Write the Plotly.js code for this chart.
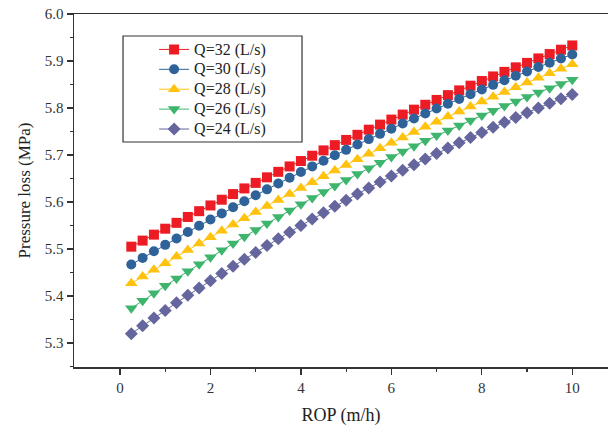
<!DOCTYPE html>
<html>
<head>
<meta charset="utf-8">
<script src="https://cdn.plot.ly/plotly-3.0.1.min.js"></script>
<style>html,body{margin:0;padding:0;background:#fff;}#chart{width:608px;height:426px;}</style>
</head>
<body>
<div id="chart"></div>
<script>
const rop = [0.25,0.5,0.75,1,1.25,1.5,1.75,2,2.25,2.5,2.75,3,3.25,3.5,3.75,4,4.25,4.5,4.75,5,
             5.25,5.5,5.75,6,6.25,6.5,6.75,7,7.25,7.5,7.75,8,8.25,8.5,8.75,9,9.25,9.5,9.75,10];

const q32 = [5.5050,5.5179,5.5306,5.5432,5.5557,5.5682,5.5805,5.5927,5.6049,5.6169,
             5.6289,5.6407,5.6525,5.6642,5.6757,5.6872,5.6985,5.7098,5.7210,5.7321,
             5.7430,5.7539,5.7647,5.7754,5.7860,5.7965,5.8069,5.8172,5.8274,5.8375,
             5.8475,5.8574,5.8672,5.8769,5.8865,5.8960,5.9055,5.9148,5.9240,5.9331];
const q30 = [5.4670,5.4811,5.4951,5.5089,5.5225,5.5361,5.5495,5.5627,5.5758,5.5888,
             5.6017,5.6144,5.6269,5.6394,5.6517,5.6638,5.6758,5.6877,5.6994,5.7110,
             5.7225,5.7338,5.7450,5.7561,5.7670,5.7777,5.7884,5.7989,5.8092,5.8194,
             5.8295,5.8395,5.8493,5.8589,5.8685,5.8778,5.8871,5.8962,5.9052,5.9140];
const q28 = [5.4270,5.4414,5.4557,5.4699,5.4840,5.4979,5.5117,5.5253,5.5389,5.5523,
             5.5655,5.5787,5.5917,5.6045,5.6173,5.6299,5.6423,5.6547,5.6669,5.6790,
             5.6909,5.7027,5.7144,5.7260,5.7374,5.7487,5.7599,5.7709,5.7818,5.7926,
             5.8032,5.8137,5.8241,5.8343,5.8444,5.8544,5.8642,5.8740,5.8835,5.8930];
const q26 = [5.3740,5.3901,5.4060,5.4217,5.4372,5.4525,5.4676,5.4826,5.4973,5.5119,
             5.5262,5.5404,5.5544,5.5682,5.5818,5.5952,5.6084,5.6215,5.6343,5.6470,
             5.6594,5.6717,5.6838,5.6957,5.7074,5.7189,5.7302,5.7413,5.7523,5.7630,
             5.7736,5.7840,5.7941,5.8041,5.8139,5.8235,5.8329,5.8421,5.8512,5.8600];
const q24 = [5.3200,5.3367,5.3532,5.3694,5.3855,5.4014,5.4171,5.4326,5.4480,5.4631,
             5.4780,5.4928,5.5074,5.5218,5.5359,5.5499,5.5637,5.5774,5.5908,5.6040,
             5.6171,5.6300,5.6426,5.6551,5.6674,5.6795,5.6914,5.7031,5.7147,5.7260,
             5.7372,5.7481,5.7589,5.7695,5.7799,5.7901,5.8001,5.8100,5.8196,5.8290];

const names = ["Q=32 (L/s)","Q=30 (L/s)","Q=28 (L/s)","Q=26 (L/s)","Q=24 (L/s)"];
const series = [q32,q30,q28,q26,q24];
const colors = ["#ED1C24","#2F6299","#FFC20E","#3DB56D","#66669E"];
const symbols = ["square","circle","triangle-up","triangle-down","diamond"];
const sizes = [10,10,11,11,10];

const traces = series.map((s,i)=>({
  x: rop, y: s, name: '<span style="font-size:16px">' + names[i] + '</span>',
  type: "scatter", mode: "lines+markers",
  line: {color: colors[i], width: 1},
  marker: {symbol: symbols[i], color: colors[i], size: sizes[i], line: {width: 0}}
}));

const font = "Liberation Serif, Times New Roman, serif";
const layout = {
  width: 608, height: 426,
  margin: {l: 74, r: 0, t: 14, b: 59},
  paper_bgcolor: "#fff", plot_bgcolor: "#fff",
  font: {family: font, size: 15, color: "#222"},
  showlegend: true,
  legend: {
    x: 0.15, y: 0.942, xanchor: "left", yanchor: "top",
    bgcolor: "rgba(0,0,0,0)", borderwidth: 0,
    font: {family: font, size: 13, color: "#222"},
    tracegroupgap: 0
  },
  shapes: [{
    type: "rect", xref: "paper", yref: "paper",
    x0: 0.0918, x1: 0.427, y0: 0.6374, y1: 0.9377,
    line: {color: "#333", width: 1.2}, fillcolor: "rgba(0,0,0,0)"
  }],
  xaxis: {
    range: [-1.017, 10.79], showgrid: false, zeroline: false,
    showline: true, linecolor: "#333", linewidth: 1.5, mirror: true,
    ticks: "outside", ticklen: 6, tickwidth: 1.2, tickcolor: "#333",
    tickvals: [0,2,4,6,8,10], ticktext: ["0","2","4","6","8","10"],
    minor: {tickvals: [1,3,5,7,9], ticks: "outside", ticklen: 3, tickcolor: "#333", tickwidth: 1.2},
    tickfont: {family: font, size: 15, color: "#333"},
    title: {text: "ROP (m/h)", font: {family: font, size: 18, color: "#222"}, standoff: 14}
  },
  yaxis: {
    range: [5.249, 6.0], showgrid: false, zeroline: false,
    showline: true, linecolor: "#333", linewidth: 1.5,
    ticks: "outside", ticklen: 6, tickwidth: 1.2, tickcolor: "#333",
    tickvals: [5.3,5.4,5.5,5.6,5.7,5.8,5.9,6.0],
    ticktext: ["5.3","5.4","5.5","5.6","5.7","5.8","5.9","6.0"],
    minor: {tickvals: [5.25,5.35,5.45,5.55,5.65,5.75,5.85,5.95], ticks: "outside", ticklen: 3, tickcolor: "#333", tickwidth: 1.2},
    tickfont: {family: font, size: 15, color: "#333"},
    title: {text: "Pressure loss (MPa)", font: {family: font, size: 17, color: "#222"}, standoff: 10}
  }
};

Plotly.newPlot("chart", traces, layout, {displayModeBar: false, staticPlot: true});
</script>
</body>
</html>
